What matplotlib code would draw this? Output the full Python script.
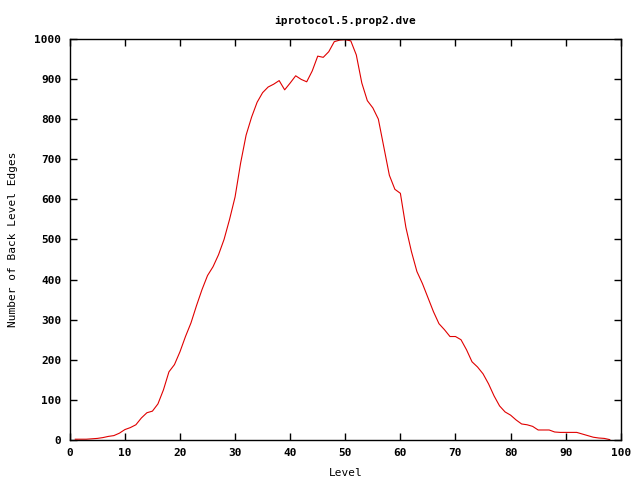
import numpy as np
import matplotlib
matplotlib.use('Agg')
import matplotlib.pyplot as plt

plt.rcParams['font.family'] = 'DejaVu Sans Mono'
plt.rcParams['font.weight'] = 'bold'
plt.rcParams['font.size'] = 8

levels = list(range(1, 99))
edges = [2, 2, 2, 3, 4, 6, 9, 11, 17, 26,
         31, 38, 55, 68, 72, 90, 125, 170, 188, 220,
         258, 292, 335, 375, 410, 432, 462, 500, 550, 606,
         690, 760, 805, 842, 866, 880, 887, 896, 873, 890,
         908, 899, 893, 920, 957, 954, 968, 993, 997, 998,
         995, 960, 890, 846, 828, 800, 730, 660, 625, 615,
         530, 470, 420, 390, 355, 320, 290, 275, 258, 258,
         250, 225, 195, 182, 165, 140, 110, 85, 70, 62,
         50, 40, 38, 34, 25, 25, 25, 20, 19, 19,
         19, 19, 15, 11, 7, 5, 4, 1]

fig = plt.figure(figsize=[6.4, 4.8], dpi=100)
ax = fig.add_axes([0.109, 0.0833, 0.861, 0.8357])
ax.plot(levels, edges, c='#e00000', lw=0.8)
ax.set_xlim(0, 100)
ax.set_ylim(0, 1000)
ax.set_xticks(np.arange(0, 101, 10))
ax.set_yticks(np.arange(0, 1001, 100))
ax.tick_params(direction='in', top=True, right=True, length=5, width=1, pad=6)
for s in ax.spines.values():
    s.set_linewidth(1)
ax.set_xlabel('Level', labelpad=7)
ax.set_ylabel('Number of Back Level Edges', labelpad=12)
ax.set_title('iprotocol.5.prop2.dve', pad=11, fontsize=8, fontweight='bold')

plt.savefig('out.png', dpi=100)
